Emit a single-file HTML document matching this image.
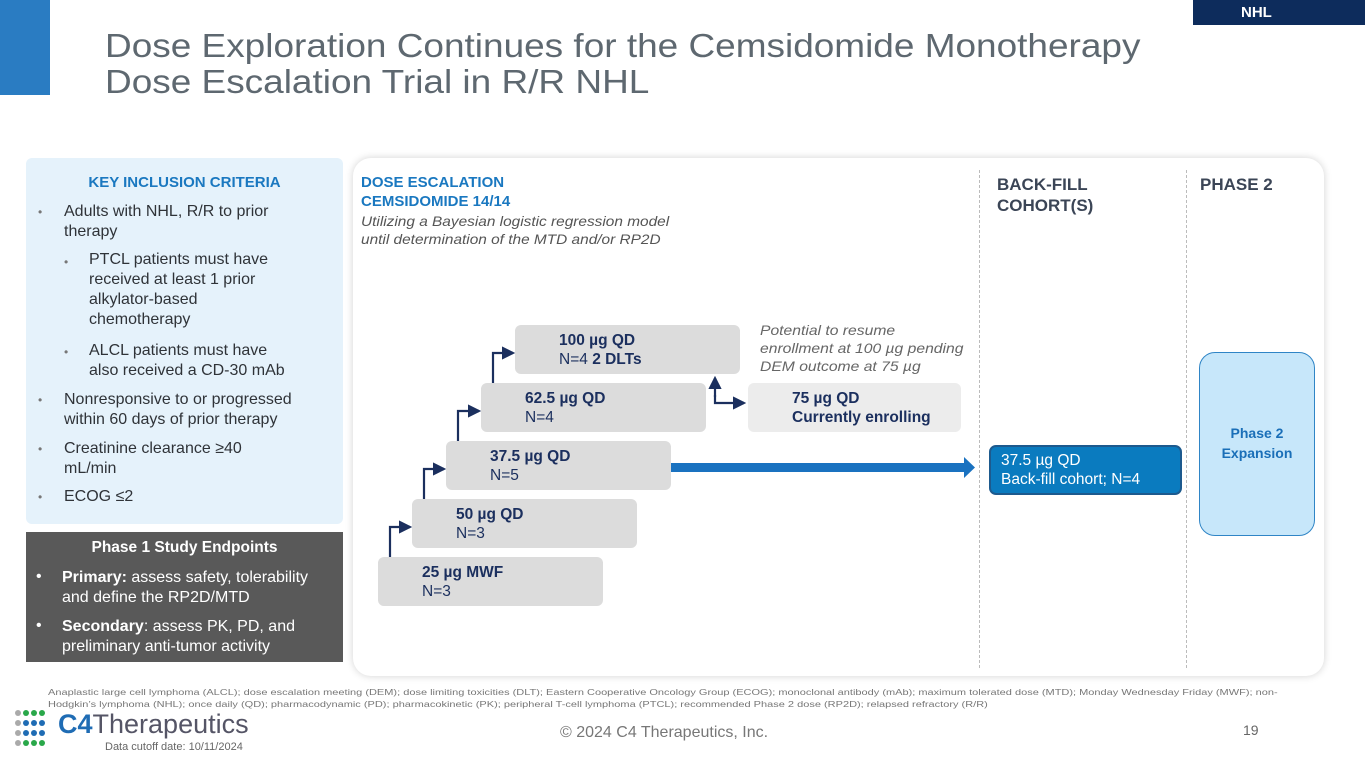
<!DOCTYPE html>
<html><head><meta charset="utf-8"><style>
*{margin:0;padding:0;box-sizing:border-box}
body{width:1365px;height:768px;background:#fff;position:relative;overflow:hidden;font-family:"Liberation Sans",sans-serif}
.a{position:absolute;white-space:nowrap}
.l{position:absolute;white-space:nowrap;font-size:16px;color:#2f3338;line-height:20px}
.w{color:#fff}
.box{position:absolute;background:#dcdcdc;border-radius:6px;height:49px;width:225px}
.box .t{position:absolute;left:44px;top:6px;font-size:15.5px;line-height:19px;color:#1b2f5e}
.hd{position:absolute;font-weight:bold;color:#3b4556;font-size:17px;line-height:21px}
.sx{transform-origin:0 0}
</style></head><body>
<div class="a" style="left:0;top:0;width:50px;height:95px;background:#2a7cc2"></div>
<div class="a sx" style="left:105px;top:28px;font-size:33px;line-height:36px;color:#5e6870;transform:scaleX(1.12)">Dose Exploration Continues for the Cemsidomide Monotherapy<br>Dose Escalation Trial in R/R NHL</div>
<div class="a" style="left:1193px;top:0;width:172px;height:25px;background:#0d2c5c;color:#fff;font-weight:bold;font-size:15px;line-height:25px;padding-left:48px">NHL</div>

<div class="a" style="left:26px;top:158px;width:317px;height:366px;background:#e5f2fb;border-radius:6px"></div>
<div class="a" style="left:26px;top:174px;width:317px;text-align:center;font-weight:bold;color:#1a78c0;font-size:15px">KEY INCLUSION CRITERIA</div>
<div class="l" style="left:38px;top:202px;font-size:12px;color:#777">•</div>
<div class="l" style="left:64px;top:202px">Adults with NHL, R/R to prior<br>therapy</div>
<div class="l" style="left:64px;top:252px;font-size:12px;color:#777">•</div>
<div class="l" style="left:89px;top:250px">PTCL patients must have<br>received at least 1 prior<br>alkylator-based<br>chemotherapy</div>
<div class="l" style="left:64px;top:342px;font-size:12px;color:#777">•</div>
<div class="l" style="left:89px;top:341px">ALCL patients must have<br>also received a CD-30 mAb</div>
<div class="l" style="left:38px;top:390px;font-size:12px;color:#777">•</div>
<div class="l" style="left:64px;top:390px">Nonresponsive to or progressed<br>within 60 days of prior therapy</div>
<div class="l" style="left:38px;top:439px;font-size:12px;color:#777">•</div>
<div class="l" style="left:64px;top:439px">Creatinine clearance ≥40<br>mL/min</div>
<div class="l" style="left:38px;top:487px;font-size:12px;color:#777">•</div>
<div class="l" style="left:64px;top:487px">ECOG ≤2</div>

<div class="a" style="left:26px;top:532px;width:317px;height:130px;background:#595959"></div>
<div class="a" style="left:26px;top:539px;width:317px;text-align:center;font-weight:bold;color:#fff;font-size:15.5px">Phase 1 Study Endpoints</div>
<div class="l w" style="left:36px;top:567px">•</div>
<div class="l w" style="left:62px;top:568px"><b>Primary:</b> assess safety, tolerability<br>and define the RP2D/MTD</div>
<div class="l w" style="left:36px;top:616px">•</div>
<div class="l w" style="left:62px;top:617px"><b>Secondary</b>: assess PK, PD, and<br>preliminary anti-tumor activity</div>

<div class="a" style="left:353px;top:158px;width:971px;height:518px;background:#fff;border-radius:18px;box-shadow:0 0 8px rgba(0,0,0,0.18)"></div>
<div class="a" style="left:979px;top:170px;height:498px;border-left:1px dashed #bbb"></div>
<div class="a" style="left:1186px;top:170px;height:498px;border-left:1px dashed #bbb"></div>
<div class="hd" style="left:361px;top:173px;color:#1a78c0;font-size:15px;line-height:19px">DOSE ESCALATION<br>CEMSIDOMIDE 14/14</div>
<div class="a sx" style="left:361px;top:212px;font-style:italic;color:#555;font-size:14px;line-height:18px;transform:scaleX(1.1)">Utilizing a Bayesian logistic regression model<br>until determination of the MTD and/or RP2D</div>
<div class="hd" style="left:997px;top:174px">BACK-FILL<br>COHORT(S)</div>
<div class="hd" style="left:1200px;top:174px">PHASE 2</div>

<div class="box" style="left:378px;top:557px"><div class="t"><b>25 µg MWF</b><br>N=3</div></div>
<div class="box" style="left:412px;top:499px"><div class="t"><b>50 µg QD</b><br>N=3</div></div>
<div class="box" style="left:446px;top:441px"><div class="t"><b>37.5 µg QD</b><br>N=5</div></div>
<div class="box" style="left:481px;top:383px"><div class="t"><b>62.5 µg QD</b><br>N=4</div></div>
<div class="box" style="left:515px;top:325px"><div class="t"><b>100 µg QD</b><br>N=4 <b>2 DLTs</b></div></div>
<div class="box" style="left:748px;top:383px;width:213px;background:#ececec"><div class="t"><b>75 µg QD<br>Currently enrolling</b></div></div>
<div class="a sx" style="left:760px;top:321px;font-style:italic;color:#666;font-size:14px;line-height:18px;transform:scaleX(1.12)">Potential to resume<br>enrollment at 100 µg pending<br>DEM outcome at 75 µg</div>

<svg class="a" style="left:0;top:0" width="1365" height="768">
<defs><marker id="m" markerWidth="6" markerHeight="6" refX="5" refY="3" orient="auto"><path d="M0,0L6,3L0,6z" fill="#1b2f5e"/></marker></defs>
<g fill="none" stroke="#1b2f5e" stroke-width="2.2" marker-end="url(#m)">
<path d="M390,557V527H410"/><path d="M424,499V469H444"/><path d="M458,441V411H479"/><path d="M493,383V353H513"/>
<path d="M715,397V378" /><path d="M715,395V403H744"/>
</g>
<rect x="671" y="463" width="294" height="9" fill="#1a72c0"/><path d="M964,457L975,467.5L964,478z" fill="#1a72c0"/>
</svg>

<div class="a" style="left:989px;top:445px;width:193px;height:50px;background:#0a7bbf;border:2px solid #1d5a8e;border-radius:7px;color:#fff;font-size:15.5px;line-height:19px;padding:4px 0 0 10px">37.5 µg QD<br>Back-fill cohort; N=4</div>
<div class="a" style="left:1199px;top:352px;width:116px;height:184px;background:#c7e7fa;border:1.5px solid #2f85c6;border-radius:16px;color:#1a6fb8;font-weight:bold;font-size:14px;line-height:20px;text-align:center;padding-top:70px">Phase 2<br>Expansion</div>

<div class="a sx" style="left:48px;top:686px;font-size:8.6px;line-height:12px;color:#777;transform:scaleX(1.28)">Anaplastic large cell lymphoma (ALCL); dose escalation meeting (DEM); dose limiting toxicities (DLT); Eastern Cooperative Oncology Group (ECOG); monoclonal antibody (mAb); maximum tolerated dose (MTD); Monday Wednesday Friday (MWF); non-<br>Hodgkin’s lymphoma (NHL); once daily (QD); pharmacodynamic (PD); pharmacokinetic (PK); peripheral T-cell lymphoma (PTCL); recommended Phase 2 dose (RP2D); relapsed refractory (R/R)</div>
<svg class="a" style="left:14px;top:709px" width="34" height="38">
<g fill="#2aa84a"><circle cx="12" cy="4" r="3"/><circle cx="20" cy="4" r="3"/><circle cx="28" cy="4" r="3"/><circle cx="12" cy="34" r="3"/><circle cx="20" cy="34" r="3"/><circle cx="28" cy="34" r="3"/></g>
<g fill="#1f6cb4"><circle cx="12" cy="14" r="3"/><circle cx="20" cy="14" r="3"/><circle cx="28" cy="14" r="3"/><circle cx="12" cy="24" r="3"/><circle cx="20" cy="24" r="3"/><circle cx="28" cy="24" r="3"/></g>
<g fill="#aaa"><circle cx="4" cy="4" r="3"/><circle cx="4" cy="14" r="3"/><circle cx="4" cy="24" r="3"/><circle cx="4" cy="34" r="3"/></g></svg>
<div class="a" style="left:58px;top:709px;font-size:27px;line-height:30px;color:#1f6cb4"><b style="color:#1f6cb4">C4</b><span style="color:#556">Therapeutics</span></div>
<div class="a" style="left:105px;top:741px;font-size:11px;color:#666">Data cutoff date: 10/11/2024</div>
<div class="a" style="left:560px;top:724px;font-size:16px;color:#777">© 2024 C4 Therapeutics, Inc.</div>
<div class="a" style="left:1243px;top:722px;font-size:14px;color:#666">19</div>
</body></html>
